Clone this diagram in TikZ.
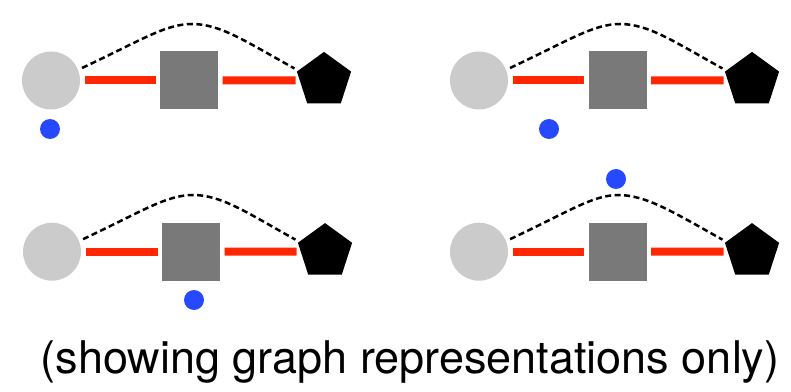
\documentclass[tikz,border=0pt]{standalone}
\usepackage{fontspec}
\setmainfont{TeX Gyre Heros}
\usepackage{tikz}
\usetikzlibrary{shapes.geometric}

\definecolor{atomgray}{RGB}{203,203,203}
\definecolor{blockgray}{RGB}{121,121,121}
\definecolor{bondred}{RGB}{255,38,0}
\definecolor{dotblue}{RGB}{38,73,255}

\begin{document}
\begin{tikzpicture}[
    x=1pt, y=1pt,
    atom/.style={circle, fill=atomgray, minimum size=58pt, inner sep=0pt, outer sep=4.5pt},
    block/.style={rectangle, fill=blockgray, minimum size=58pt, inner sep=0pt, outer sep=4.5pt},
    pent/.style={regular polygon, regular polygon sides=5, fill=black, minimum size=57pt, inner sep=0pt, outer sep=4pt},
    marker/.style={circle, fill=dotblue, minimum size=20pt, inner sep=0pt},
    bond/.style={draw=bondred, line width=8pt},
    link/.style={draw=black, line width=2.5pt, dash pattern=on 6pt off 3.5pt}
]
\useasboundingbox (0,0) rectangle (791,391);

% ==================== PANEL 1 (top left) ====================
\node[atom] (c1) at (51, 310.5) {};
\node[block] (s1) at (189, 310.5) {};
\node[pent] (p1) at (324, 310.6) {};
\node[marker] (m1) at (50, 262) {};

% ==================== PANEL 2 (top right) ====================
\node[atom] (c2) at (479, 310.5) {};
\node[block] (s2) at (617.5, 310.5) {};
\node[pent] (p2) at (752, 310.6) {};
\node[marker] (m2) at (549, 262) {};

% ==================== PANEL 3 (bottom left) ====================
\node[atom] (c3) at (52, 139.3) {};
\node[block] (s3) at (191, 139.3) {};
\node[pent] (p3) at (325, 139.4) {};
\node[marker] (m3) at (194, 91) {};

% ==================== PANEL 4 (bottom right) ====================
\node[atom] (c4) at (479, 139.3) {};
\node[block] (s4) at (617.5, 139.3) {};
\node[pent] (p4) at (752, 139.4) {};
\node[marker] (m4) at (616, 212) {};

% ==================== CAPTION ====================
\node[anchor=base, font=\fontsize{45}{50}\selectfont, inner sep=0pt] (caption) at (410, 18) {(showing graph representations only)};

% ==================== BONDS ====================
\draw[bond] (c1) -- (s1);
\draw[bond] (s1) -- (p1);
\draw[bond] (c2) -- (s2);
\draw[bond] (s2) -- (p2);
\draw[bond] (c3) -- (s3);
\draw[bond] (s3) -- (p3);
\draw[bond] (c4) -- (s4);
\draw[bond] (s4) -- (p4);

% ==================== DASHED LINKS ====================
\draw[link] (c1.22) .. controls (140,350) and (165,367) .. (192,367) .. controls (220,367) and (245,350) .. (p1.158);
\draw[link] (c2.22) .. controls (568,350) and (593,367) .. (620,367) .. controls (648,367) and (673,350) .. (p2.158);
\draw[link] (c3.22) .. controls (141,179) and (166,196) .. (193,196) .. controls (221,196) and (246,179) .. (p3.158);
\draw[link] (c4.22) .. controls (568,179) and (593,196) .. (618,196) .. controls (646,196) and (673,179) .. (p4.158);

\end{tikzpicture}
\end{document}
